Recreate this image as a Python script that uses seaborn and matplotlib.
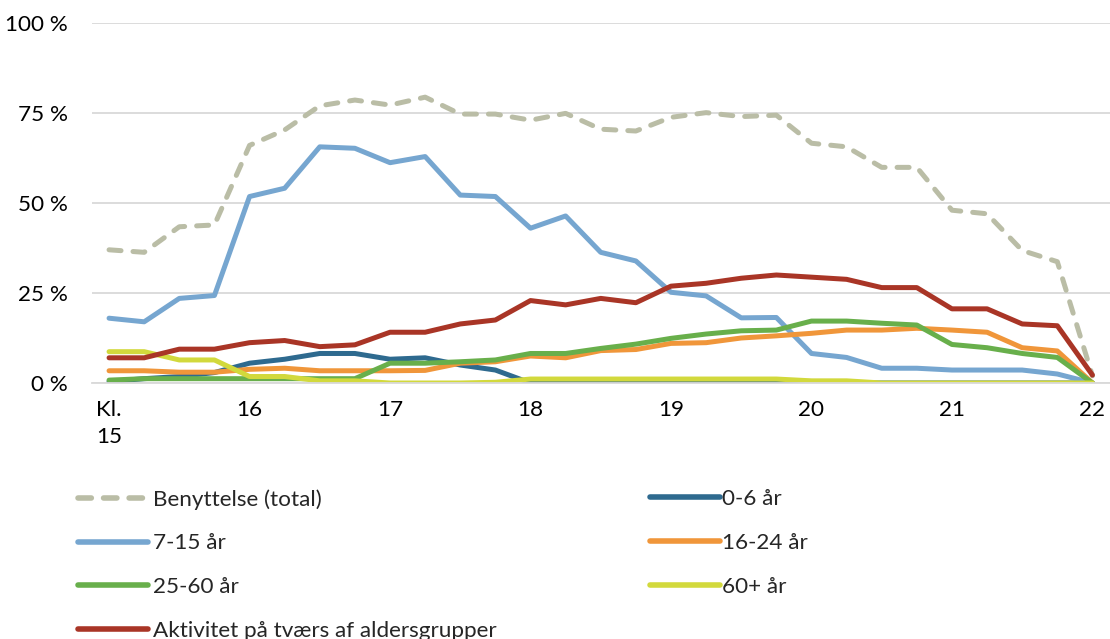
import numpy as np
import pandas as pd
import matplotlib
matplotlib.use("Agg")
import matplotlib.pyplot as plt
from matplotlib.lines import Line2D
import seaborn as sns

# ---- data (percent, every quarter hour from 15:00 to 22:00) ----
hour_labels = ["Kl.\n15", "16", "17", "18", "19", "20", "21", "22"]
total = [37, 36.3, 43.4, 43.9, 66, 70.3, 77, 78.6, 77.2, 79.4, 74.7, 74.7, 73, 74.9,
         70.5, 70, 73.8, 75.1, 74, 74.4, 66.6, 65.6, 59.9, 59.9, 48, 47, 36.8, 33.7, 2]
age_0_6 = [0.4, 1.2, 1.8, 2.9, 5.5, 6.6, 8.2, 8.2, 6.6, 7.0, 5.0, 3.6, 0, 0, 0, 0, 0,
           0, 0, 0, 0, 0, 0, 0, 0, 0, 0, 0, 0]
age_7_15 = [18, 17, 23.5, 24.3, 51.8, 54.1, 65.6, 65.2, 61.2, 62.9, 52.2, 51.8, 43, 46.4,
            36.3, 33.9, 25.2, 24.2, 18.1, 18.2, 8.2, 7.1, 4.1, 4.1, 3.6, 3.6, 3.6, 2.5, 0]
age_16_24 = [3.4, 3.4, 3.0, 3.0, 3.8, 4.1, 3.4, 3.4, 3.4, 3.5, 5.5, 5.9, 7.5, 7.0, 9.0,
             9.3, 11, 11.2, 12.5, 13.1, 13.8, 14.7, 14.7, 15.2, 14.7, 14.1, 9.8, 8.9, 0]
age_25_60 = [0.8, 1.2, 1.2, 1.2, 1.2, 1.2, 1.2, 1.2, 5.5, 5.5, 5.9, 6.4, 8.2, 8.2, 9.6,
             10.8, 12.4, 13.6, 14.5, 14.7, 17.2, 17.2, 16.6, 16.1, 10.7, 9.8, 8.2, 7.1, 0]
age_60 = [8.7, 8.7, 6.4, 6.4, 1.8, 1.8, 0.6, 0.6, 0, 0, 0, 0.2, 1.1, 1.1, 1.1, 1.1, 1.1,
          1.1, 1.1, 1.1, 0.6, 0.6, 0, 0, 0, 0, 0, 0, 0]
activity = [7.0, 7.0, 9.4, 9.4, 11.2, 11.8, 10.1, 10.6, 14.1, 14.1, 16.4, 17.5, 22.9, 21.7,
            23.5, 22.3, 26.9, 27.7, 29.1, 30, 29.4, 28.8, 26.5, 26.5, 20.6, 20.6, 16.4, 15.9, 2.2]

series_names = ["Benyttelse (total)", "0-6 år", "7-15 år", "16-24 år", "25-60 år",
                "60+ år", "Aktivitet på tværs af aldersgrupper"]
series_values = [total, age_0_6, age_7_15, age_16_24, age_25_60, age_60, activity]
colors = ["#BABDA6", "#2E6A8F", "#76A6D0", "#F0963A", "#68AF4B", "#D2D93C", "#A93526"]

n = len(total)
frames = []
for name, vals in zip(series_names, series_values):
    frames.append(pd.DataFrame({"t": np.arange(n), "value": vals, "series": name}))
df = pd.concat(frames, ignore_index=True)

sns.set_theme(style="white")
plt.rcParams["font.family"] = ["Lato", "DejaVu Sans"]
FS = 16.2
LW = 3.6

fig = plt.figure(figsize=(11.10, 6.39), dpi=100)
ax = fig.add_axes([91.5 / 1110, 1 - 383 / 639, 1 - 91.5 / 1110, 360 / 639])

palette = dict(zip(series_names, colors))
dashes = {name: "" for name in series_names}
dashes["Benyttelse (total)"] = (2.4, 2.4)
sns.lineplot(data=df, x="t", y="value", hue="series", style="series",
             hue_order=series_names, style_order=series_names,
             palette=palette, dashes=dashes, linewidth=LW, legend=False, ax=ax)
for ln in ax.get_lines():
    ln.set_solid_joinstyle("round")
    ln.set_dash_capstyle("round")
    ln.set_dash_joinstyle("round")

ax.set_xlim(-0.5, n - 0.5)
ax.set_ylim(0, 100)
ax.set_yticks([0, 25, 50, 75, 100])
ax.set_yticklabels([f"{v} %" for v in [0, 25, 50, 75, 100]])
ax.set_xticks(np.arange(0, n, 4))
ax.set_xticklabels(hour_labels)
for lab in ax.get_xticklabels():
    lab.set_linespacing(1.45)
    lab.set_verticalalignment("top")
ax.tick_params(axis="both", length=0, labelsize=FS, colors="black")
ax.tick_params(axis="x", pad=12)
ax.tick_params(axis="y", pad=17)
ax.set_xlabel("")
ax.set_ylabel("")
ax.grid(axis="y", color="#D9D9D9", linewidth=1.3)
ax.grid(axis="x", visible=False)
for side in ["top", "right", "left"]:
    ax.spines[side].set_visible(False)
ax.spines["bottom"].set_color("#D9D9D9")
ax.spines["bottom"].set_linewidth(1.3)
ax.set_axisbelow(True)

def handle(i):
    ls = (0, (2.4, 2.2)) if i == 0 else "-"
    return Line2D([], [], color=colors[i], linewidth=4.0, linestyle=ls,
                  solid_capstyle="round", dash_capstyle="round")

left_idx = [0, 2, 4, 6]
right_idx = [1, 3, 5]
common = dict(frameon=False, fontsize=FS, loc="upper left", borderpad=0,
              borderaxespad=0, labelspacing=1.06, handlelength=3.1)
top_y = 1 - 489 / 639
leg1 = fig.legend([handle(i) for i in left_idx], [series_names[i] for i in left_idx],
                  bbox_to_anchor=(78 / 1110, top_y), handletextpad=0.25, **common)
leg2 = fig.legend([handle(i) for i in right_idx], [series_names[i] for i in right_idx],
                  bbox_to_anchor=(650 / 1110, top_y), handletextpad=0.1, **common)

fig.savefig("out.png", dpi=100)
